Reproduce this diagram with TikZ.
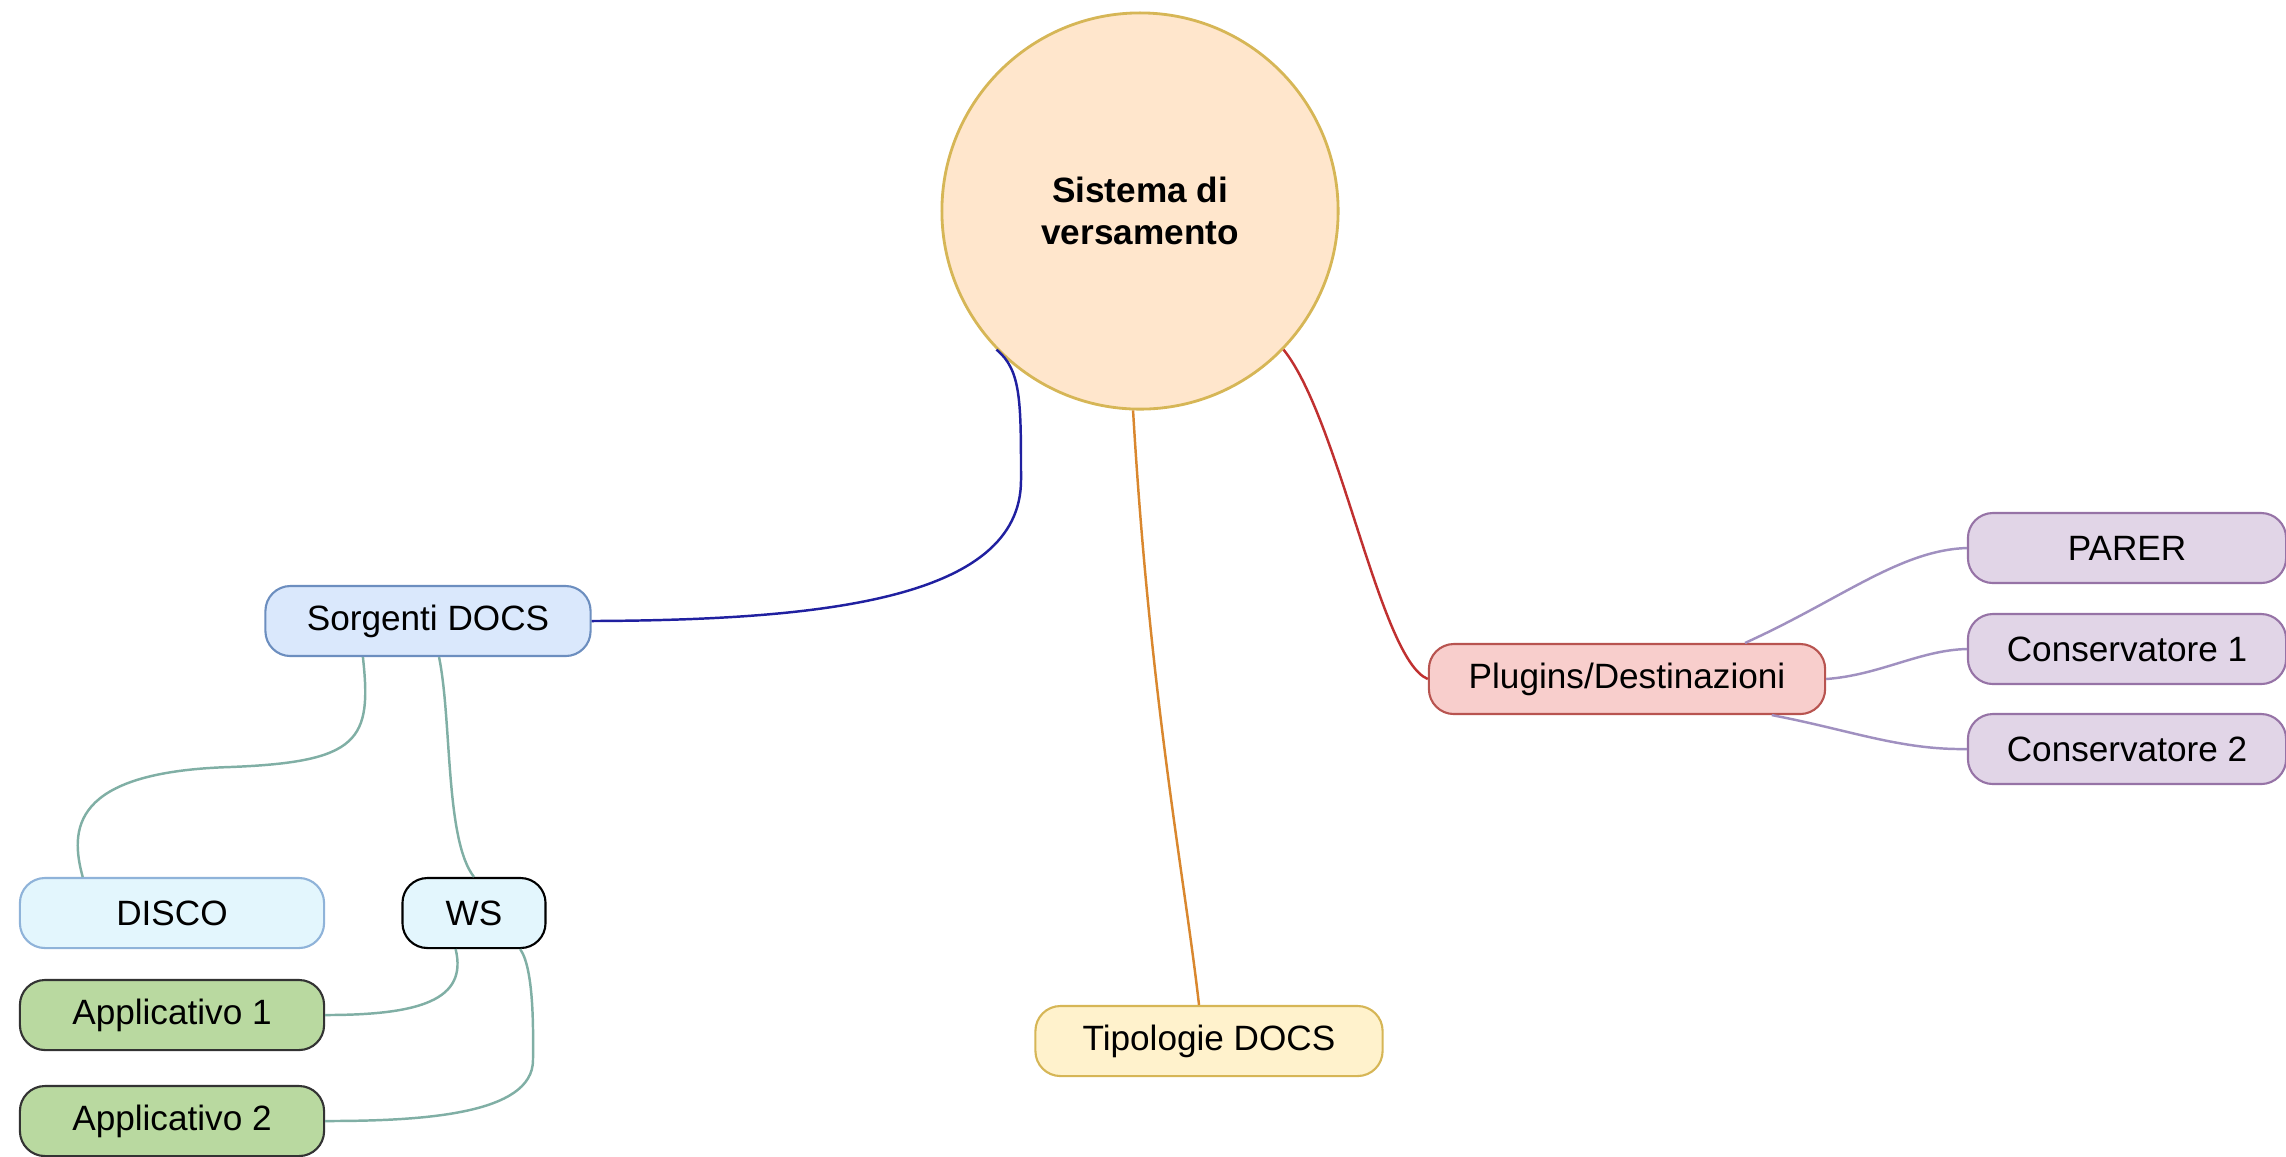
\documentclass[tikz,border=0pt]{standalone}
\usepackage{fontspec}
\setmainfont{Liberation Sans}
\usetikzlibrary{positioning}

\definecolor{circFill}{HTML}{FFE6CC}
\definecolor{circBorder}{HTML}{D6B656}
\definecolor{srcFill}{HTML}{DAE8FC}
\definecolor{srcBorder}{HTML}{6C8EBF}
\definecolor{discoFill}{HTML}{E3F6FD}
\definecolor{discoBorder}{HTML}{8FB3D9}
\definecolor{appFill}{HTML}{B9D9A0}
\definecolor{appBorder}{HTML}{333333}
\definecolor{tipFill}{HTML}{FFF2CC}
\definecolor{tipBorder}{HTML}{D6B656}
\definecolor{plugFill}{HTML}{F8CECC}
\definecolor{plugBorder}{HTML}{B85450}
\definecolor{destFill}{HTML}{E1D5E7}
\definecolor{destBorder}{HTML}{9673A6}
\definecolor{linkBlue}{HTML}{2020A0}
\definecolor{linkOrange}{HTML}{D9872E}
\definecolor{linkRed}{HTML}{C03030}
\definecolor{linkPurple}{HTML}{A090C0}
\definecolor{linkTeal}{HTML}{80AFA5}

\begin{document}
\begin{tikzpicture}[x=0.01cm,y=-0.01cm,
  mapbox/.style={rectangle, rounded corners=2.5mm, draw, line width=0.6pt,
    minimum height=7mm, inner sep=0pt, font=\fontsize{10}{12}\selectfont},
  link/.style={line width=0.7pt}]
  \useasboundingbox (0,0) rectangle (2286,1156);

  \node[
  circle,
  draw=circBorder,
  fill=circFill,
  line width=0.8pt,
  minimum size=3.96cm,
  align=center,
  font=\bfseries\fontsize{10}{12}\selectfont] (sys) at (1140,211) {Sistema di\\versamento};

  \node[mapbox, draw=srcBorder, fill=srcFill, minimum width=3.25cm] (src) at (428,621) {Sorgenti DOCS};
  \node[mapbox, draw=discoBorder, fill=discoFill, minimum width=3.04cm] (disco) at (172,913) {DISCO};
  \node[mapbox, draw=black, fill=discoFill, minimum width=1.43cm] (ws) at (474,913) {WS};
  \node[mapbox, draw=appBorder, fill=appFill, minimum width=3.04cm] (app1) at (172,1015) {Applicativo 1};
  \node[mapbox, draw=appBorder, fill=appFill, minimum width=3.04cm] (app2) at (172,1121) {Applicativo 2};

  \node[mapbox, draw=tipBorder, fill=tipFill, minimum width=3.47cm] (tip) at (1209,1041) {Tipologie DOCS};

  \node[mapbox, draw=plugBorder, fill=plugFill, minimum width=3.96cm] (plug) at (1627,679) {Plugins/Destinazioni};
  \node[mapbox, draw=destBorder, fill=destFill, minimum width=3.18cm] (parer) at (2127,548) {PARER};
  \node[mapbox, draw=destBorder, fill=destFill, minimum width=3.18cm] (cons1) at (2127,649) {Conservatore 1};
  \node[mapbox, draw=destBorder, fill=destFill, minimum width=3.18cm] (cons2) at (2127,749) {Conservatore 2};

  % rami principali
  \draw[link, linkBlue] (sys.224) .. controls (1021,370) and (1021,400) .. (1021,480)
    .. controls (1021,600) and (820,620) .. (src.east);
  \draw[link, linkOrange] (sys.268) .. controls (1150,700) and (1185,880) .. ([xshift=-0.1cm]tip.north);
  \draw[link, linkRed] (sys.316) .. controls (1340,420) and (1380,660) .. (plug.west);

  % sorgenti
  \draw[link, linkTeal] (src.209) .. controls (372,740) and (360,762) .. (230,767)
    .. controls (70,772) and (70,830) .. (disco.158);
  \draw[link, linkTeal] (src.287) .. controls (452,720) and (445,840) .. (ws.north);
  \draw[link, linkTeal] (ws.243) .. controls (468,1000) and (420,1015) .. (app1.east);
  \draw[link, linkTeal] (ws.-38) .. controls (535,970) and (533,1040) .. (533,1060)
    .. controls (533,1115) and (420,1121) .. (app2.east);

  % destinazioni
  \draw[link, linkPurple] (plug.17) .. controls (1840,600) and (1900,550) .. (parer.west);
  \draw[link, linkPurple] (plug.east) .. controls (1880,675) and (1920,650) .. (cons1.west);
  \draw[link, linkPurple] (plug.-14) .. controls (1850,730) and (1900,750) .. (cons2.west);
\end{tikzpicture}
\end{document}
